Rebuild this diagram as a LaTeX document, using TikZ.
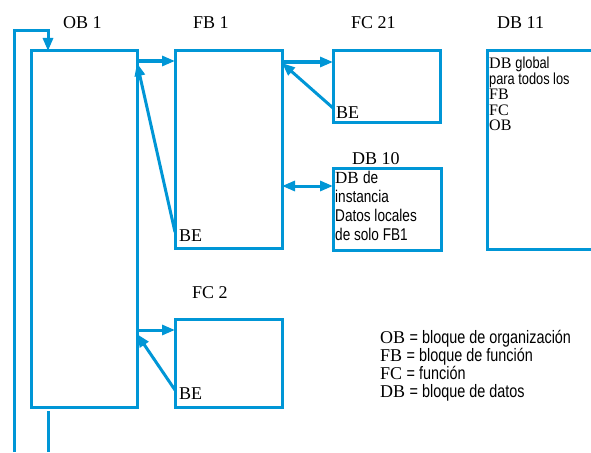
\documentclass[tikz,border=0pt]{standalone}
\usepackage{fontspec}
\setmainfont{Liberation Serif}
\newfontfamily\condsf{Liberation Sans}[FakeStretch=0.8]
\usetikzlibrary{arrows.meta, positioning}
\definecolor{plcblue}{RGB}{0,150,214}

\tikzset{
  blk/.style={draw=plcblue, line width=3pt, anchor=north west, inner sep=0pt, outer sep=0pt},
  conn/.style={draw=plcblue, line width=3pt, -{Triangle[length=13pt,width=10pt]}},
  lbl/.style={anchor=base west, inner sep=0pt, font=\fontsize{18}{18}\selectfont},
  txt/.style={anchor=north west, inner sep=0pt, align=left},
}

\begin{document}
\begin{tikzpicture}[x=1pt, y=-1pt]
  \useasboundingbox (0,0) rectangle (591,452);
  \clip (0,0) rectangle (591,452);
  % Bloques
  \node[blk, minimum width=106pt, minimum height=356pt] (ob1) at (31,51) {};
  \node[blk, minimum width=107pt, minimum height=197pt] (fb1) at (175,51) {};
  \node[blk, minimum width=107pt, minimum height=71pt] (fc21) at (333,51) {};
  \node[blk, minimum width=108pt, minimum height=82pt] (db10) at (333,168) {};
  \node[blk, minimum width=120pt, minimum height=198pt] (db11) at (487,51) {};
  \node[blk, minimum width=107pt, minimum height=88pt] (fc2) at (175,319) {};
  % Nombres de los bloques
  \node[lbl] (tob1) at (63,29) {OB 1};
  \node[lbl] (tfb1) at (193,29) {FB 1};
  \node[lbl] (tfc21) at (351,29) {FC 21};
  \node[lbl] (tdb11) at (497,29) {DB 11};
  \node[lbl] (tdb10) at (352,164) {DB 10};
  \node[lbl] (tfc2) at (192,298) {FC 2};
  % Fin de bloque
  \node[lbl] (befb1) at (179,241) {BE};
  \node[lbl] (befc21) at (336,118) {BE};
  \node[lbl] (befc2) at (179,399) {BE};
  % Textos dentro de los DB
  \node[txt, font=\fontsize{17}{19}\selectfont] (tinst) at (335,171)
    {DB {\condsf de}\\{\condsf instancia}\\{\condsf Datos locales}\\{\condsf de solo FB1}};
  \node[txt, font=\fontsize{16}{15.5}\selectfont] (tglob) at (489,57)
    {DB {\condsf global}\\{\condsf para todos los}\\FB\\FC\\OB};
  % Leyenda
  \node[txt, font=\fontsize{18}{18}\selectfont] (leyenda) at (380,330)
    {OB {\condsf = bloque de organización}\\FB {\condsf = bloque de función}\\FC {\condsf = función}\\DB {\condsf = bloque de datos}};
  % Llamadas y retornos
  \draw[conn] ([yshift=-10pt]ob1.north east) -- ([yshift=-10pt]fb1.north west);
  \draw[conn] ([yshift=16pt]fb1.south west) -- ([yshift=-12pt]ob1.north east);
  \draw[conn] ([yshift=-11pt]fb1.north east) -- ([yshift=-11pt]fc21.north west);
  \draw[conn] ([yshift=14pt]fc21.south west) -- ([yshift=-12pt]fb1.north east);
  \coordinate (dbarr) at ([yshift=-18pt]db10.north west);
  \draw[conn, {Triangle[length=13pt,width=10pt]}-{Triangle[length=13pt,width=10pt]}] (fb1.east |- dbarr) -- (dbarr);
  \draw[conn] ([yshift=-11pt]fc2.north west -| ob1.east) -- ([yshift=-11pt]fc2.north west);
  \draw[conn] ([yshift=17pt]fc2.south west) -- ([yshift=-15pt]fc2.north west -| ob1.east);
  % Ciclo del OB 1
  \coordinate (loopin) at (48,31);
  \coordinate (loopbot) at (14,452);
  \coordinate (outbot) at (48,452);
  \draw[conn] (loopbot) |- (loopin) -- (loopin |- ob1.north);
  \draw[draw=plcblue, line width=3pt] ([yshift=-4pt]ob1.south -| outbot) -- (outbot);
\end{tikzpicture}
\end{document}
